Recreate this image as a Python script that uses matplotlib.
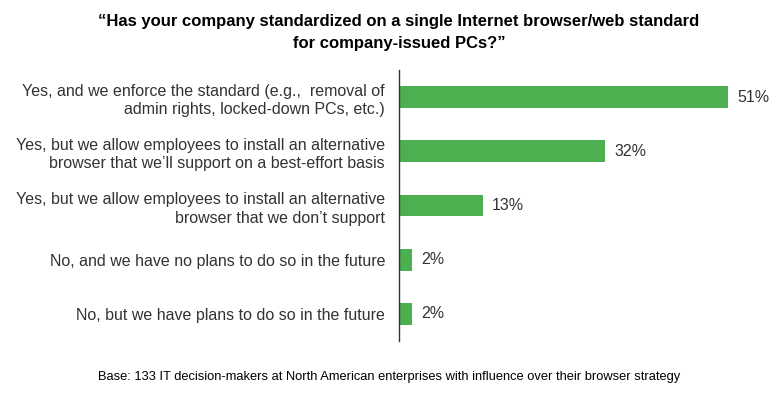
import matplotlib
matplotlib.use("Agg")
import matplotlib.pyplot as plt

title = "\u201cHas your company standardized on a single Internet browser/web standard\nfor company-issued PCs?\u201d"
categories = [
    "Yes, and we enforce the standard (e.g.,  removal of\nadmin rights, locked-down PCs, etc.)",
    "Yes, but we allow employees to install an alternative\nbrowser that we\u2019ll support on a best-effort basis",
    "Yes, but we allow employees to install an alternative\nbrowser that we don\u2019t support",
    "No, and we have no plans to do so in the future",
    "No, but we have plans to do so in the future",
]
values = [51, 32, 13, 2, 2]
footnote = "Base: 133 IT decision-makers at North American enterprises with influence over their browser strategy"

plt.rcParams['font.family'] = ['Liberation Sans', 'DejaVu Sans']
green = '#4CAF50'

fig = plt.figure(figsize=(7.82, 3.94), dpi=100)
ax = fig.add_axes([399 / 782, 53 / 394, 371 / 782, 271 / 394])

ypos = list(range(len(values)))[::-1]
ax.barh(ypos, values, height=0.4, color=green)
for y, v in zip(ypos, values):
    ax.text(v + 1.4, y, f"{v}%", va='center', ha='left', fontsize=11.5, color='#333333')

ax.set_ylim(-0.5, len(values) - 0.5)
ax.set_xlim(0, 371 / 6.45)
ax.set_yticks(ypos)
ax.set_yticklabels(categories, fontsize=11.5, color='#333333', linespacing=1.3)
ax.tick_params(axis='y', length=0, pad=10)
ax.set_xticks([])
for s in ['top', 'right', 'bottom']:
    ax.spines[s].set_visible(False)
ax.spines['left'].set_color('#333333')
ax.spines['left'].set_linewidth(1.0)

fig.text(0.51, 0.917, title, ha='center', va='center', fontsize=12, fontweight='bold',
         family=['Liberation Sans Narrow', 'Liberation Sans', 'DejaVu Sans'], linespacing=1.55)
fig.text(0.498, 0.043, footnote, ha='center', va='center', fontsize=9.3,
         family=['Liberation Sans Narrow', 'Liberation Sans', 'DejaVu Sans'])

fig.savefig('out.png', dpi=100, facecolor='white')
